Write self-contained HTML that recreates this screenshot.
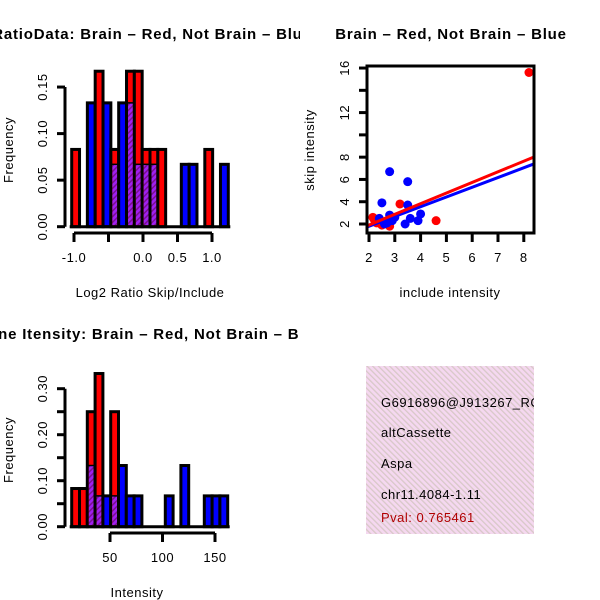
<!DOCTYPE html>
<html><head><meta charset="utf-8"><style>
body{margin:0;background:#fff}
svg{display:block;font-family:"Liberation Sans",sans-serif}
</style></head><body>
<svg id="s" width="600" height="600" viewBox="0 0 600 600">
<defs>
<pattern id="hatch" width="4" height="4" patternUnits="userSpaceOnUse" patternTransform="rotate(45)">
<rect width="4" height="4" fill="#a020f0"/><rect width="1.5" height="4" fill="#7a1090"/></pattern>
<pattern id="pinkh" width="4" height="4" patternUnits="userSpaceOnUse" patternTransform="rotate(-45)">
<rect width="4" height="4" fill="#f5d8f0"/><rect width="1.3" height="4" fill="#d8c8c8"/></pattern>
<clipPath id="c1"><rect x="0" y="0" width="300" height="300"/></clipPath>
<clipPath id="c3"><rect x="0" y="300" width="300" height="300"/></clipPath>
<clipPath id="cbox"><rect x="366" y="366" width="168" height="168"/></clipPath>
<clipPath id="cplot"><rect x="367" y="66" width="167" height="167"/></clipPath>
</defs>
<g id="p1" clip-path="url(#c1)"></g>
<g id="p2"></g>
<g id="p3" clip-path="url(#c3)"></g>
<g id="p4">
<rect x="366" y="366" width="168" height="168" fill="url(#pinkh)"/>
<g clip-path="url(#cbox)" font-size="13" letter-spacing="0.5">
<text x="381" y="407">G6916896@J913267_RC</text>
<text x="381" y="437">altCassette</text>
<text x="381" y="468">Aspa</text>
<text x="381" y="499">chr11.4084-1.11</text>
<text x="381" y="522" fill="#b00000">Pval: 0.765461</text>
</g></g>
</svg>
<script>
// Histogram 1 (ratio) bin frequencies, 20 bins
const ratioRed  = [0.083,0,0,0.167,0,0.083,0,0.167,0.167,0.083,0.083,0.083,0,0,0,0,0,0.083,0,0];
const ratioBlue = [0,0,0.133,0,0.133,0.067,0.133,0.133,0.067,0.067,0.067,0,0,0,0.067,0.067,0,0,0,0.067];
const ratioXTicks = [-1.0,-0.5,0.0,0.5,1.0];
const ratioXLabels = ["-1.0","","0.0","0.5","1.0"];
const ratioYTicks = [0,0.05,0.10,0.15];
const ratioYLabels = ["0.00","0.05","0.10","0.15"];
// Histogram 2 (intensity)
const intRed  = [0.083,0.083,0.25,0.333,0,0.25,0,0,0,0,0,0,0,0,0,0,0,0,0,0];
const intBlue = [0,0,0.133,0.067,0.067,0.067,0.133,0.067,0.067,0,0,0,0.067,0,0.133,0,0,0.067,0.067,0.067];
const intXTicks = [50,100,150];
const intYTicks = [0,0.05,0.10,0.15,0.20,0.25,0.30];
const intYLabels = ["0.00","","0.10","","0.20","","0.30"];
// Scatter
const redInc  = [8.2,4.6,3.2,2.2,2.3,2.5,2.8,2.4,2.9,2.15];
const redSkip = [15.6,2.3,3.8,2.4,2.1,1.9,1.8,2.2,2.5,2.6];
const blueInc  = [2.8,3.5,2.5,3.5,4.0,3.9,3.4,3.6,2.8,2.6,2.4,2.9,2.7,3.0];
const blueSkip = [6.7,5.8,3.9,3.7,2.9,2.3,2.0,2.5,2.8,2.0,2.5,2.3,2.1,2.6];
// fit lines: [intercept, slope]
const redFit  = [0.0, 0.955];
const blueFit = [0.05, 0.875];
const scXTicks = [2,3,4,5,6,7,8];
const scYTicks = [2,4,6,8,10,12,14,16];
const scYLabels = ["2","4","6","8","","12","","16"];

const NS="http://www.w3.org/2000/svg";
function mk(p,tag,a,txt){const e=document.createElementNS(NS,tag);for(const k in a)e.setAttribute(k,a[k]);if(txt!==undefined)e.textContent=txt;p.appendChild(e);return e;}

function hist(g,red,blue,x0,bw,yz,ys,name){
  for(let i=0;i<red.length;i++){
    const r=red[i],b=blue[i];if(!r&&!b)continue;
    const x=x0+i*bw,hi=Math.max(r,b),lo=Math.min(r,b);
    const top=mk(g,'rect',{x:x,y:yz-hi*ys,width:bw,height:hi*ys,fill:r>=b?'#ff0000':'#0000ff',stroke:'#000','stroke-width':3});
    
    
    if(lo>0){const o=mk(g,'rect',{x:x+1.5,y:yz-lo*ys,width:bw-3,height:lo*ys-1.5,fill:'url(#hatch)'});
      
      
      mk(g,'line',{x1:x,x2:x+bw,y1:yz-lo*ys,y2:yz-lo*ys,stroke:'#000','stroke-width':1.5});}
  }
  mk(g,'line',{x1:x0-2,x2:x0+red.length*bw+2,y1:yz,y2:yz,stroke:'#000','stroke-width':3});
}
function yaxis(g,x,ticks,labels,fy,name){
  const a=mk(g,'line',{x1:x,x2:x,y1:fy(ticks[0]),y2:fy(ticks[ticks.length-1]),stroke:'#000','stroke-width':3});
  
  
  ticks.forEach((t,i)=>{const y=fy(t);mk(g,'line',{x1:x-8,x2:x,y1:y,y2:y,stroke:'#000','stroke-width':3});
    if(labels[i]){const tx=mk(g,'text',{x:x-18,y:y,'font-size':13,'letter-spacing':0.5,'text-anchor':'middle',transform:`rotate(-90 ${x-18} ${y})`},labels[i]);
      
      }});
}
function xaxis(g,y,ticks,labels,fx,name){
  const a=mk(g,'line',{x1:fx(ticks[0]),x2:fx(ticks[ticks.length-1]),y1:y,y2:y,stroke:'#000','stroke-width':3});
  
  
  ticks.forEach((t,i)=>{const x=fx(t);mk(g,'line',{x1:x,x2:x,y1:y,y2:y+9,stroke:'#000','stroke-width':3});
    if(labels[i]){const tx=mk(g,'text',{x:x,y:y+29,'font-size':13,'letter-spacing':0.5,'text-anchor':'middle'},labels[i]);
      
      }});
}
function title(g,x,y,s,name){const t=mk(g,'text',{x:x,y:y,'font-size':15,'letter-spacing':0.8,'font-weight':'bold','text-anchor':'middle'},s);
  
  }
function lab(g,x,y,s,rot,name){const t=mk(g,'text',{x:x,y:y,'font-size':13,'letter-spacing':0.5,'text-anchor':'middle',transform:rot?`rotate(-90 ${x} ${y})`:''},s);
  
  }

// Panel 1
const g1=document.getElementById('p1');
const fx1=v=>143+v*69, fy1=v=>226.7-v*931;
title(g1,130,39,'Log2 RatioData: Brain \u2013 Red, Not Brain \u2013 Blue','ratio-hist-title');
hist(g1,ratioRed,ratioBlue,71.7,7.83,226.7,931,'ratio');
yaxis(g1,65,ratioYTicks,ratioYLabels,fy1,'ratio-y-axis');
xaxis(g1,233,ratioXTicks,ratioXLabels,fx1,'ratio-x-axis');
lab(g1,150,297,'Log2 Ratio Skip/Include',false,'ratio-x-title');
lab(g1,13,150,'Frequency',true,'ratio-y-title');

// Panel 3
const g3=document.getElementById('p3');
const fx3=v=>110+(v-50)*1.05, fy3=v=>526.7-v*460;
title(g3,150,339,'Gene Itensity: Brain \u2013 Red, Not Brain \u2013 Blue','intensity-hist-title');
hist(g3,intRed,intBlue,71.7,7.8,526.7,460,'intensity');
yaxis(g3,65,intYTicks,intYLabels,fy3,'intensity-y-axis');
xaxis(g3,533,intXTicks,intXTicks.map(String),fx3,'intensity-x-axis');
lab(g3,137,597,'Intensity',false,'intensity-x-title');
lab(g3,13,450,'Frequency',true,'intensity-y-title');

// Panel 2 scatter
const g2=document.getElementById('p2');
const fxs=v=>369+(v-2)*25.8, fys=v=>224-(v-2)*11.14;
title(g2,451,39,'Brain \u2013 Red, Not Brain \u2013 Blue','scatter-title');
const pc=mk(g2,'g',{'clip-path':'url(#cplot)'});
function pts(xs,ys,col,name){xs.forEach((v,i)=>{const c=mk(pc,'circle',{cx:fxs(v),cy:fys(ys[i]),r:4.5,fill:col});
  
  });}
pts(redInc,redSkip,'#ff0000','red');
pts(blueInc,blueSkip,'#0000ff','blue');
[[blueFit,'#0000ff','blue'],[redFit,'#ff0000','red']].forEach(([f,col,n])=>{
  const [a,b]=f;const l=mk(pc,'line',{x1:fxs(1.5),y1:fys(a+b*1.5),x2:fxs(9),y2:fys(a+b*9),stroke:col,'stroke-width':3});
  
  });
const fr=mk(g2,'rect',{x:367,y:66,width:167,height:167,fill:'none',stroke:'#000','stroke-width':3});


yaxis(g2,367,scYTicks,scYLabels,fys,'scatter-y-axis');
xaxis(g2,233,scXTicks,scXTicks.map(String),fxs,'scatter-x-axis');
lab(g2,450,297,'include intensity',false,'scatter-x-title');
lab(g2,314,150,'skip intensity',true,'scatter-y-title');
</script>
</body></html>
